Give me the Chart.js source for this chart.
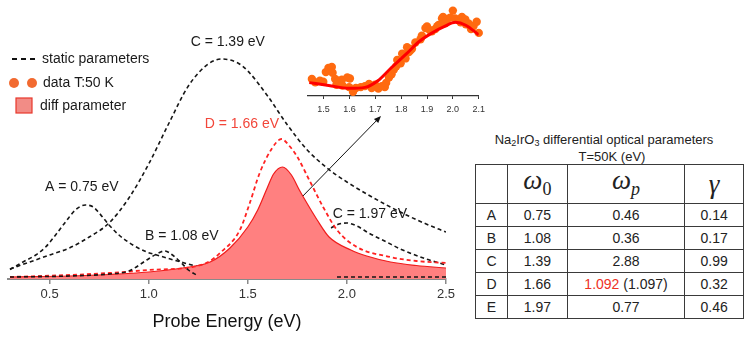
<!DOCTYPE html>
<html>
<head>
<meta charset="utf-8">
<script src="https://cdn.jsdelivr.net/npm/chart.js@4.4.1/dist/chart.umd.min.js"></script>
<style>
  html, body { margin: 0; padding: 0; background: #fff; }
  body { width: 744px; height: 337px; position: relative; overflow: hidden;
         font-family: 'Liberation Sans', Arial, Helvetica, sans-serif; color: #222; }
  #spectrum { position: absolute; left: 0; top: 0; }
  #inset { position: absolute; left: 290px; top: 0; }
  .ttl { position: absolute; font-size: 13px; white-space: nowrap; transform: translateX(-50%); color: #222; }
  .ttl sub { font-size: 9px; vertical-align: -2px; }
  #params { position: absolute; left: 475px; top: 164px; border-collapse: collapse; table-layout: fixed; }
  #params td { border: 1px solid #3a3a3a; padding: 0; text-align: center; font-size: 14px;
               height: 22px; line-height: 22px; color: #222; }
  #params tr.head td { height: 38px; font-family: 'Liberation Serif', 'DejaVu Serif', serif; font-size: 27px; }
  #params tr.head i { font-style: italic; }
  #params tr.head sub { font-size: 18px; vertical-align: -6px; }
  .hot { color: #ee3124; }
</style>
</head>
<body>
<canvas id="spectrum" width="470" height="337"></canvas>
<canvas id="inset" width="200" height="120"></canvas>
<div class="ttl" style="left:604px; top:132px;">Na<sub>2</sub>IrO<sub>3</sub> differential optical parameters</div>
<div class="ttl" style="left:612px; top:149px;">T=50K (eV)</div>
<table id="params">
  <colgroup><col style="width:33px"><col style="width:61px"><col style="width:121px"><col style="width:60px"></colgroup>
  <tbody id="paramRows">
    <tr class="head"><td></td><td><i>ω</i><sub>0</sub></td><td><i>ω</i><sub><i>p</i></sub></td><td><i>γ</i></td></tr>
  </tbody>
</table>
<script>
// ---- oscillator traces (energy in eV, ε2 in arb. units) ----
const energyA = [0.30, 0.37, 0.43, 0.48, 0.53, 0.58, 0.63, 0.68, 0.72, 0.75, 0.80, 0.85, 0.92, 0.99, 1.04, 1.18, 1.30];
const levelA  = [0.19, 0.35, 0.48, 0.64, 0.88, 1.14, 1.38, 1.48, 1.44, 1.32, 1.08, 0.88, 0.68, 0.54, 0.48, 0.32, 0.20];

const energyB = [0.30, 0.60, 0.80, 0.90, 0.99, 1.04, 1.08, 1.12, 1.16, 1.20, 1.25, 1.60, 1.95, 2.20, 2.50];
const levelB  = [0.04, 0.06, 0.10, 0.16, 0.38, 0.50, 0.56, 0.48, 0.34, 0.18, 0.06, null, 0.04, 0.04, 0.04];

const energyC = [0.30, 0.40, 0.50, 0.60, 0.70, 0.80, 0.90, 1.00, 1.10, 1.20, 1.30, 1.37, 1.45, 1.50, 1.60, 1.70, 1.80, 1.90, 2.00, 2.10, 2.20, 2.30, 2.40, 2.50];
const levelC  = [0.20, 0.34, 0.48, 0.62, 0.84, 1.12, 1.62, 2.30, 3.10, 3.86, 4.30, 4.40, 4.32, 4.16, 3.66, 3.08, 2.58, 2.22, 1.94, 1.70, 1.48, 1.28, 1.10, 0.94];

const energyE = [1.92, 1.96, 2.00, 2.05, 2.11, 2.20, 2.27, 2.40, 2.50];
const levelE  = [1.02, 1.10, 1.12, 1.06, 0.92, 0.74, 0.60, 0.40, 0.28];

// static D oscillator (red dashed)
const energyD = [0.30, 0.60, 0.80, 1.00, 1.22, 1.30, 1.36, 1.46, 1.51, 1.56, 1.62, 1.67, 1.71, 1.75, 1.81, 1.88, 1.95, 2.05, 2.22, 2.35, 2.50];
const levelD  = [0.04, 0.08, 0.12, 0.18, 0.24, 0.34, 0.52, 0.98, 1.52, 2.12, 2.60, 2.80, 2.66, 2.44, 1.98, 1.44, 0.98, 0.64, 0.44, 0.36, 0.32];

// differential D oscillator (filled)
const energyDiff = [0.30, 0.60, 0.80, 1.00, 1.17, 1.31, 1.41, 1.50, 1.55, 1.60, 1.63, 1.675, 1.72, 1.76, 1.78, 1.85, 1.91, 2.02, 2.10, 2.22, 2.35, 2.50];
const levelDiff  = [0.04, 0.06, 0.09, 0.14, 0.22, 0.34, 0.62, 1.04, 1.38, 1.84, 2.10, 2.24, 2.08, 1.78, 1.64, 1.18, 0.84, 0.58, 0.46, 0.34, 0.27, 0.22];

const energyTicks = [0.5, 1.0, 1.5, 2.0, 2.5];

// ---- inset: measured differential signal and fit ----
const insetEnergy = [1.455, 1.468, 1.486, 1.499, 1.509, 1.519, 1.532, 1.535, 1.545, 1.550, 1.558, 1.571, 1.573, 1.592, 1.599, 1.602,
  1.614, 1.625, 1.644, 1.660, 1.676, 1.686, 1.699, 1.712, 1.725, 1.737, 1.742, 1.753, 1.763, 1.772, 1.781, 1.785, 1.798,
  1.804, 1.817, 1.823, 1.830, 1.836, 1.842, 1.855, 1.875, 1.880, 1.894, 1.900, 1.910, 1.919, 1.932, 1.940, 1.945, 1.958,
  1.962, 1.970, 1.977, 1.990, 2.000, 2.009, 2.022, 2.030, 2.035, 2.048, 2.050, 2.060, 2.069, 2.070, 2.080, 2.092, 2.100];
const insetSignal = [1.77, 1.43, 1.60, 1.50, 2.50, 2.93, 3.03, 2.43, 1.77, 1.17, 1.60, 1.70, 1.10, 1.93, 0.93, 1.83,
  0.43, 0.83, 0.93, 1.03, 1.27, 0.83, 1.17, 0.77, 1.03, 0.93, 1.37, 1.93, 2.27, 2.77, 3.10, 3.77, 3.43,
  4.43, 3.93, 5.10, 4.60, 4.77, 4.93, 5.60, 5.93, 6.30, 7.10, 7.27, 6.90, 6.77, 7.00, 7.30, 7.43, 8.10,
  8.27, 7.60, 8.00, 8.20, 8.93, 8.10, 7.93, 7.70, 8.27, 8.00, 7.50, 7.60, 7.20, 7.00, 7.33, 7.77, 6.60];
const fitEnergy = [1.445, 1.52, 1.60, 1.66, 1.71, 1.76, 1.82, 1.87, 1.92, 1.97, 2.01, 2.05, 2.10];
const fitSignal = [1.4, 1.1, 0.8, 0.9, 1.6, 2.9, 4.4, 5.7, 6.6, 7.3, 7.7, 7.4, 6.4];
const insetTicks = [1.5, 1.6, 1.7, 1.8, 1.9, 2.0, 2.1];

// ---- fitted parameter table ----
const rowNames = ['A', 'B', 'C', 'D', 'E'];
const omega0   = ['0.75', '1.08', '1.39', '1.66', '1.97'];
const omegaP   = ['0.46', '0.36', '2.88', '1.092', '0.77'];
const omegaPStatic = [null, null, null, '1.097', null];
const gammaVals = ['0.14', '0.17', '0.99', '0.32', '0.46'];

const FONT = "'Liberation Sans', Arial, Helvetica, sans-serif";
Chart.defaults.font.family = FONT;

const toPoints = (xs, ys) => xs.map((x, i) => ({ x: x, y: ys[i] }));

const dashedBlack = (data, order) => ({
    data: data,
    borderColor: '#161616',
    borderWidth: 1.6,
    borderDash: [4, 3],
    pointRadius: 0,
    fill: false,
    cubicInterpolationMode: 'monotone',
    order: order
});

// text labels over the peaks, anchored in data coordinates
const peakLabels = [
    { text: 'A = 0.75 eV', x: 0.662, y: 1.84, color: '#1a1a1a' },
    { text: 'B = 1.08 eV', x: 1.167, y: 0.86, color: '#1a1a1a' },
    { text: 'C = 1.39 eV', x: 1.399, y: 4.74, color: '#1a1a1a' },
    { text: 'D = 1.66 eV', x: 1.470, y: 3.10, color: '#f2463a' },
    { text: 'C = 1.97 eV', x: 2.116, y: 1.30, color: '#1a1a1a' }
];

const overlay = {
    id: 'overlay',
    afterDatasetsDraw(chart) {
        const ctx = chart.ctx;
        const xs = chart.scales.x, ys = chart.scales.y;
        ctx.save();

        // peak labels
        ctx.font = '14px ' + FONT;
        ctx.textAlign = 'center';
        ctx.textBaseline = 'middle';
        peakLabels.forEach(l => {
            ctx.fillStyle = l.color;
            ctx.fillText(l.text, xs.getPixelForValue(l.x), ys.getPixelForValue(l.y));
        });

        // arrow from the differential peak up to the inset
        const x0 = xs.getPixelForValue(1.778), y0 = ys.getPixelForValue(1.66);
        const x1 = xs.getPixelForValue(2.172), y1 = ys.getPixelForValue(3.26);
        const ang = Math.atan2(y1 - y0, x1 - x0);
        ctx.strokeStyle = '#111';
        ctx.fillStyle = '#111';
        ctx.lineWidth = 1;
        ctx.beginPath();
        ctx.moveTo(x0, y0);
        ctx.lineTo(x1 - 5 * Math.cos(ang), y1 - 5 * Math.sin(ang));
        ctx.stroke();
        ctx.beginPath();
        ctx.moveTo(x1, y1);
        ctx.lineTo(x1 - 7 * Math.cos(ang) + 3 * Math.sin(ang), y1 - 7 * Math.sin(ang) - 3 * Math.cos(ang));
        ctx.lineTo(x1 - 7 * Math.cos(ang) - 3 * Math.sin(ang), y1 - 7 * Math.sin(ang) + 3 * Math.cos(ang));
        ctx.closePath();
        ctx.fill();

        // legend
        ctx.textAlign = 'left';
        ctx.fillStyle = '#1a1a1a';
        ctx.strokeStyle = '#111';
        ctx.lineWidth = 2.2;
        ctx.setLineDash([5, 4]);
        ctx.beginPath();
        ctx.moveTo(12, 59);
        ctx.lineTo(36, 59);
        ctx.stroke();
        ctx.setLineDash([]);
        ctx.fillText('static parameters', 42, 59);

        ctx.fillStyle = '#f26a30';
        [14, 32].forEach(cx => {
            ctx.beginPath();
            ctx.arc(cx, 83, 5, 0, Math.PI * 2);
            ctx.fill();
        });
        ctx.fillStyle = '#1a1a1a';
        ctx.fillText('data T:50 K', 43, 83);

        ctx.fillStyle = '#f28c86';
        ctx.fillRect(16, 98, 16, 15);
        ctx.strokeStyle = '#e8382c';
        ctx.lineWidth = 1.2;
        ctx.strokeRect(16, 98, 16, 15);
        ctx.fillStyle = '#1a1a1a';
        ctx.fillText('diff parameter', 40, 106);

        ctx.restore();
    }
};

new Chart(document.getElementById('spectrum'), {
    type: 'line',
    data: {
        datasets: [
            dashedBlack(toPoints(energyB, levelB), 0),
            {
                data: toPoints(energyD, levelD),
                borderColor: '#ff2222',
                borderWidth: 1.8,
                borderDash: [4, 3],
                pointRadius: 0,
                fill: false,
                cubicInterpolationMode: 'monotone',
                order: 1
            },
            {
                data: toPoints(energyDiff, levelDiff),
                borderColor: '#f01c1c',
                borderWidth: 1.2,
                backgroundColor: '#ff8080',
                pointRadius: 0,
                fill: 'origin',
                cubicInterpolationMode: 'monotone',
                order: 2
            },
            dashedBlack(toPoints(energyA, levelA), 3),
            dashedBlack(toPoints(energyE, levelE), 4),
            dashedBlack(toPoints(energyC, levelC), 5)
        ]
    },
    options: {
        responsive: false,
        animation: false,
        events: [],
        layout: { padding: { left: 8, right: 24, top: 20, bottom: 0 } },
        plugins: { legend: { display: false }, tooltip: { enabled: false } },
        scales: {
            x: {
                type: 'linear',
                min: 0.29,
                max: 2.5,
                afterBuildTicks: scale => { scale.ticks = energyTicks.map(v => ({ value: v })); },
                afterFit: scale => { scale.height = 58; },
                ticks: {
                    callback: v => v.toFixed(1),
                    color: '#333',
                    font: { size: 13 },
                    padding: 3,
                    maxRotation: 0
                },
                grid: { drawOnChartArea: false, drawTicks: true, tickLength: 5, color: '#8a8a8a', lineWidth: 1.5 },
                border: { color: '#8a8a8a', width: 2 },
                title: {
                    display: true,
                    text: 'Probe Energy (eV)',
                    color: '#111',
                    font: { size: 18 },
                    padding: { top: 0, bottom: 4 }
                }
            },
            y: { display: false, min: 0, max: 5.18 }
        }
    },
    plugins: [overlay]
});

new Chart(document.getElementById('inset'), {
    type: 'line',
    data: {
        datasets: [
            {
                data: toPoints(fitEnergy, fitSignal),
                borderColor: '#ff0000',
                borderWidth: 3,
                pointRadius: 0,
                fill: false,
                cubicInterpolationMode: 'monotone',
                order: 0
            },
            {
                data: toPoints(insetEnergy, insetSignal),
                showLine: false,
                pointRadius: 4.2,
                pointBorderWidth: 0,
                pointBackgroundColor: '#ff6a10',
                clip: 8,
                order: 1
            }
        ]
    },
    options: {
        responsive: false,
        animation: false,
        events: [],
        layout: { padding: { left: 18, right: 10, top: 0, bottom: 0 } },
        plugins: { legend: { display: false }, tooltip: { enabled: false } },
        scales: {
            x: {
                type: 'linear',
                min: 1.44,
                max: 2.1,
                afterBuildTicks: scale => { scale.ticks = insetTicks.map(v => ({ value: v })); },
                afterFit: scale => { scale.height = 24; },
                ticks: {
                    callback: v => v.toFixed(1),
                    color: '#333',
                    font: { size: 9 },
                    padding: 5,
                    maxRotation: 0
                },
                grid: { drawOnChartArea: false, drawTicks: true, tickLength: 3, color: '#333', lineWidth: 1 },
                border: { color: '#333', width: 1.2 }
            },
            y: { display: false, min: 0, max: 9.6 }
        }
    }
});

// fill the parameter table
const tbody = document.getElementById('paramRows');
rowNames.forEach((name, i) => {
    const tr = document.createElement('tr');
    let wp = omegaP[i];
    if (omegaPStatic[i]) {
        wp = '<span class="hot">' + omegaP[i] + '</span> (' + omegaPStatic[i] + ')';
    }
    tr.innerHTML = '<td>' + name + '</td><td>' + omega0[i] + '</td><td>' + wp + '</td><td>' + gammaVals[i] + '</td>';
    tbody.appendChild(tr);
});
</script>
</body>
</html>
